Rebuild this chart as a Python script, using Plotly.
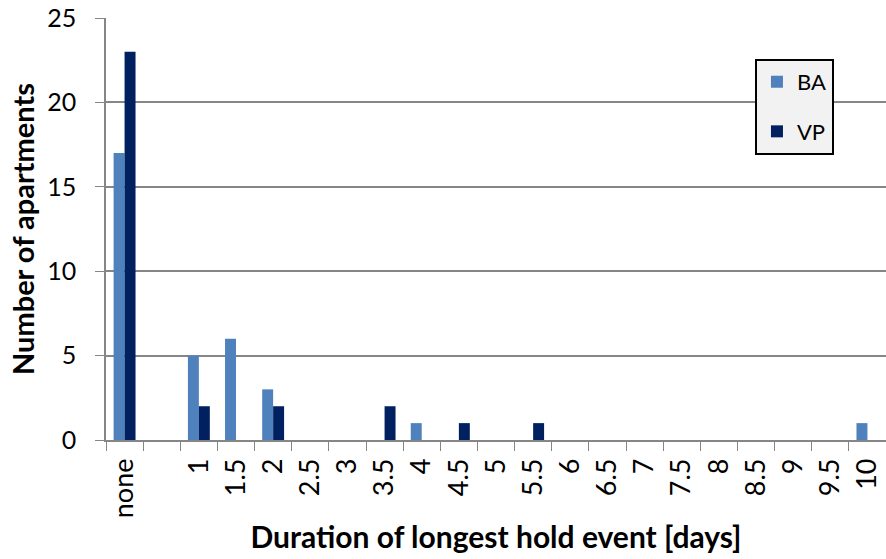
import plotly.graph_objects as go

categories = ["none", " ", "1", "1.5", "2", "2.5", "3", "3.5", "4", "4.5", "5",
              "5.5", "6", "6.5", "7", "7.5", "8", "8.5", "9", "9.5", "10"]
ba_values = [17, 0, 5, 6, 3, 0, 0, 0, 1, 0, 0, 0, 0, 0, 0, 0, 0, 0, 0, 0, 1]
vp_values = [23, 0, 2, 0, 2, 0, 0, 2, 0, 1, 0, 1, 0, 0, 0, 0, 0, 0, 0, 0, 0]
y_ticks = [0, 5, 10, 15, 20, 25]

FONT = "Lato"
AXIS_COLOR = "#868686"

fig = go.Figure()
fig.add_trace(go.Bar(x=categories, y=ba_values, name="BA", marker_color="#4f81bd",
                     marker_line_width=0, legendgroup="a"))
fig.add_trace(go.Bar(x=categories, y=vp_values, name="VP", marker_color="#002060",
                     marker_line_width=0, legendgroup="b"))

fig.update_layout(
    width=886, height=559,
    margin=dict(l=106, r=0, t=18, b=119),
    paper_bgcolor="white", plot_bgcolor="white",
    barmode="group", bargap=0.41, bargroupgap=0,
    font=dict(family=FONT, size=24, color="black"),
    legend=dict(
        x=0.832, y=0.903, xanchor="left", yanchor="top",
        bgcolor="#f2f2f2", bordercolor="black", borderwidth=2,
        font=dict(family=FONT, size=22, color="black"),
        tracegroupgap=18, traceorder="grouped",
    ),
    xaxis=dict(
        type="category", categoryorder="array", categoryarray=categories,
        tickangle=-90, tickson="boundaries", ticks="outside", ticklen=9,
        tickcolor=AXIS_COLOR, showline=True, linecolor=AXIS_COLOR, linewidth=1.5,
        showgrid=False, tickfont=dict(size=27), ticklabelstandoff=6,
        title=dict(text="<b>Duration of longest hold event [days]</b>",
                   font=dict(size=30), standoff=10),
        range=[-0.5, 20.5], automargin=False,
    ),
    yaxis=dict(
        range=[0, 25], tickvals=y_ticks, ticks="outside", ticklen=9,
        tickcolor=AXIS_COLOR, showline=True, linecolor=AXIS_COLOR, linewidth=1.5,
        showgrid=True, gridcolor=AXIS_COLOR, gridwidth=1.5,
        zeroline=False, tickfont=dict(size=25), ticklabelstandoff=14,
        title=dict(text="<b>Number of apartments</b>", font=dict(size=29), standoff=4),
        automargin=False,
    ),
)

fig.write_html("out.html", post_script="document.body.style.margin='0';",
               config={"displayModeBar": False})
